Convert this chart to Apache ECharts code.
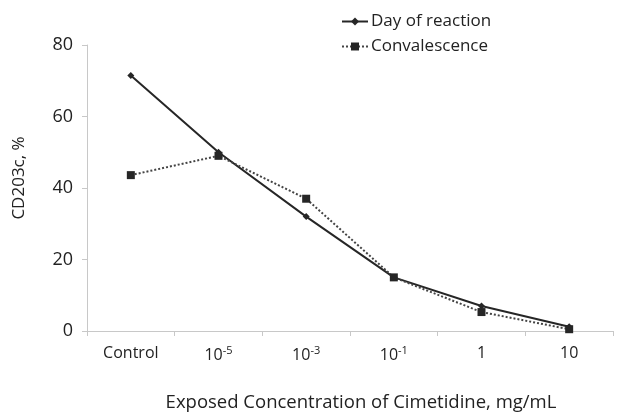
<!DOCTYPE html>
<html>
<head>
<meta charset="utf-8">
<script src="https://cdn.jsdelivr.net/npm/echarts@6/dist/echarts.min.js"></script>
<style>
  html, body { margin: 0; padding: 0; background: #fff; }
  #chart { width: 625px; height: 417px; }
</style>
</head>
<body>
<div id="chart"></div>
<script>
const categories = ['Control', '10^-5', '10^-3', '10^-1', '1', '10']
const dayOfReaction = [71.5, 50, 32, 15, 7, 1.2]
const convalescence = [43.6, 49, 37, 15, 5.3, 0.5]
const yTicks = [0, 20, 40, 60, 80]

const font = '"Open Sans", "Noto Sans", sans-serif'
const ink = '#262626'

// '10^-5' -> 10 with superscript -5
function catLabel (v) {
  const p = v.split('^')
  return p.length > 1 ? '{n|' + p[0] + '}{sup|' + p[1] + '}' : '{n|' + v + '}'
}

const chart = echarts.init(document.getElementById('chart'))
chart.setOption({
  animation: false,
  textStyle: { fontFamily: font },
  grid: { left: 87, right: 12, top: 45, bottom: 86 },
  legend: {
    top: 8,
    left: 336,
    orient: 'vertical',
    itemGap: 8,
    itemWidth: 26,
    itemHeight: 10,
    textStyle: { fontFamily: font, fontSize: 17, color: '#222', padding: [0, 0, 0, -2] },
    data: ['Day of reaction', 'Convalescence']
  },
  xAxis: {
    type: 'category',
    data: categories,
    name: 'Exposed Concentration of Cimetidine, mg/mL',
    nameLocation: 'middle',
    nameGap: 62,
    nameTextStyle: { fontFamily: font, fontSize: 18.5, color: '#222', padding: [0, 0, 0, 22] },
    axisLine: { lineStyle: { color: '#c8c8c8', width: 1 } },
    axisTick: { show: true, length: 5, interval: 0, lineStyle: { color: '#c8c8c8' } },
    axisLabel: {
      interval: 0,
      margin: 14,
      formatter: catLabel,
      rich: {
        n: { fontFamily: font, fontSize: 16, color: '#222' },
        sup: { fontFamily: font, fontSize: 11, verticalAlign: 'top', padding: [0, 0, 9, 0], color: '#222' }
      }
    }
  },
  yAxis: {
    type: 'value',
    min: 0,
    max: yTicks[yTicks.length - 1],
    interval: 20,
    name: 'CD203c, %',
    nameLocation: 'middle',
    nameGap: 59,
    nameTextStyle: { fontFamily: font, fontSize: 17, color: '#222', padding: [0, 0, 0, 20] },
    axisLine: { show: true, lineStyle: { color: '#c8c8c8', width: 1 } },
    axisTick: { show: true, length: 5, lineStyle: { color: '#c8c8c8' } },
    axisLabel: { fontFamily: font, fontSize: 18, color: '#222', margin: 14 },
    splitLine: { show: false }
  },
  series: [
    {
      name: 'Day of reaction',
      type: 'line',
      data: dayOfReaction,
      symbol: 'diamond',
      symbolSize: 7,
      itemStyle: { color: ink },
      lineStyle: { color: ink, width: 2, type: 'solid' }
    },
    {
      name: 'Convalescence',
      type: 'line',
      data: convalescence,
      symbol: 'rect',
      symbolSize: 8,
      itemStyle: { color: ink },
      lineStyle: { color: '#444', width: 2, type: [2, 2] }
    }
  ]
})
</script>
</body>
</html>
